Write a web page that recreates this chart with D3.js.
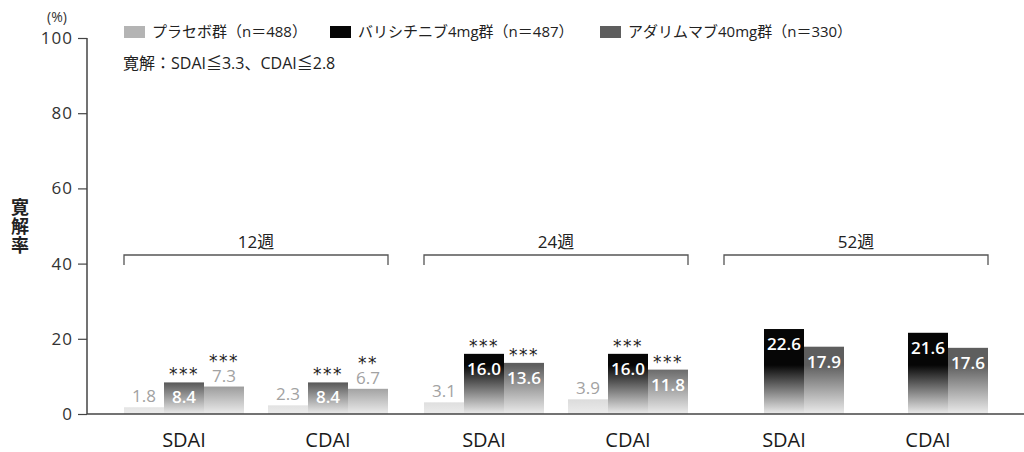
<!DOCTYPE html>
<html><head><meta charset="utf-8">
<script src="https://cdn.jsdelivr.net/npm/d3@7"></script>
<style>
html,body{margin:0;padding:0;background:#fff;}
svg{display:block;font-family:"Open Sans","Noto Sans CJK JP",sans-serif;}
</style></head>
<body>
<svg id="chart" width="1024" height="452"></svg>
<script>
// ---- data ----
const weeks = ["12週", "24週", "52週"];
const indices = ["SDAI", "CDAI"];
const seriesNames = ["プラセボ群（n＝488）", "バリシチニブ4mg群（n＝487）", "アダリムマブ40mg群（n＝330）"];
const seriesKeys = ["placebo", "bari", "ada"];
// order: 12週 SDAI, 12週 CDAI, 24週 SDAI, 24週 CDAI, 52週 SDAI, 52週 CDAI
const placebo = [1.8, 2.3, 3.1, 3.9, null, null];
const baricitinib = [8.4, 8.4, 16.0, 16.0, 22.6, 21.6];
const adalimumab = [7.3, 6.7, 13.6, 11.8, 17.9, 17.6];
const bariStars = ["***", "***", "***", "***", "", ""];
const adaStars = ["***", "**", "***", "***", "", ""];
const yTicks = [0, 20, 40, 60, 80, 100];
const note = "寛解：SDAI≦3.3、CDAI≦2.8";
const yTitle = ["寛", "解", "率"];

const colors = {placebo: "#b4b4b4", bari: "#060606", ada: "#5e5e5e"};

const svg = d3.select("#chart");

const y = d3.scaleLinear().domain([0, 100]).range([414, 38]);
const xWeek = d3.scaleBand().domain(weeks).range([106, 1006]).paddingInner(0.12).paddingOuter(0.06);
const xIdx = d3.scaleBand().domain(indices).range([0, xWeek.bandwidth()]).paddingInner(1/6).paddingOuter(0);
const xSer = d3.scaleBand().domain(seriesKeys).range([0, xIdx.bandwidth()]).padding(0);

// gradients
const defs = svg.append("defs");
seriesKeys.forEach(k => {
  const g = defs.append("linearGradient").attr("id", "g-" + k)
    .attr("gradientUnits", "userSpaceOnUse")
    .attr("x1", 0).attr("x2", 0).attr("y1", y(13)).attr("y2", y(0));
  g.append("stop").attr("offset", 0).attr("stop-color", colors[k]);
  g.append("stop").attr("offset", 1).attr("stop-color", "#ececec");
});

// build rows
const rows = [];
weeks.forEach((w, wi) => indices.forEach((ix, ii) => {
  const i = wi * 2 + ii;
  rows.push({w, ix, i,
    vals: {placebo: placebo[i], bari: baricitinib[i], ada: adalimumab[i]},
    stars: {bari: bariStars[i], ada: adaStars[i]}});
}));

// bars
const bars = [];
rows.forEach(r => seriesKeys.forEach(k => {
  if (r.vals[k] == null) return;
  bars.push({k, v: r.vals[k], stars: r.stars[k] || "", x: xWeek(r.w) + xIdx(r.ix) + xSer(k)});
}));

svg.append("g").selectAll("rect").data(bars).join("rect")
  .attr("x", d => d.x).attr("width", xSer.bandwidth())
  .attr("y", d => y(d.v)).attr("height", d => y(0) - y(d.v))
  .attr("fill", d => `url(#g-${d.k})`);

// value labels
const lab = svg.append("g").attr("font-size", 17).attr("text-anchor", "middle");
bars.forEach(d => {
  const cx = d.x + xSer.bandwidth() / 2;
  const top = y(d.v);
  const inside = d.k === "bari" || (d.k === "ada" && d.v > 10);
  const baseY = inside ? top + 21 : top - 5;
  if (d.stars && !inside) {
    // stars and value stacked in one text element above the bar
    const t = lab.append("text").attr("x", cx).attr("y", baseY);
    t.append("tspan").attr("x", cx).attr("y", baseY - 15)
      .attr("fill", "#222").attr("font-size", 17).attr("letter-spacing", 1.5)
      .attr("font-family", "DejaVu Sans").text(d.stars);
    t.append("tspan").attr("x", cx).attr("y", baseY).attr("fill", "#a2a2a2").text(d.v.toFixed(1));
    return;
  }
  lab.append("text").attr("x", cx).attr("y", baseY)
    .attr("fill", inside ? "#fff" : "#a2a2a2")
    .attr("font-weight", inside ? 600 : 400)
    .text(d.v.toFixed(1));
  if (d.stars) {
    lab.append("text").attr("x", cx).attr("y", top - 2)
      .attr("fill", "#222").attr("font-size", 17).attr("letter-spacing", 1.5)
      .attr("font-family", "DejaVu Sans")
      .text(d.stars);
  }
});

// axes
const axisColor = "#444";
const yAxis = svg.append("g").attr("transform", "translate(87,0)")
  .call(d3.axisLeft(y).tickValues(yTicks).tickSize(9).tickPadding(5));
yAxis.select(".domain").attr("stroke", axisColor).attr("stroke-width", 1.5).attr("d", `M0,${y(100)}V${y(0)}`);
yAxis.selectAll(".tick line").attr("stroke", axisColor).attr("stroke-width", 1.2);
yAxis.selectAll(".tick text").attr("font-size", 17).attr("fill", "#333").attr("letter-spacing", 1)
  .attr("font-family", "'Open Sans',sans-serif");

svg.append("line").attr("x1", 87).attr("x2", 1024).attr("y1", y(0)).attr("y2", y(0))
  .attr("stroke", axisColor).attr("stroke-width", 1.5);

// category labels
rows.forEach(r => {
  svg.append("text").attr("x", xWeek(r.w) + xIdx(r.ix) + xIdx.bandwidth() / 2)
    .attr("y", 447).attr("text-anchor", "middle").attr("font-size", 20).attr("fill", "#1a1a1a")
    .text(r.ix);
});

// week brackets
weeks.forEach(w => {
  const x0 = xWeek(w), x1 = xWeek(w) + xWeek.bandwidth();
  svg.append("path").attr("d", `M${x0},265V255H${x1}V265`)
    .attr("fill", "none").attr("stroke", "#555").attr("stroke-width", 1.3);
  svg.append("text").attr("x", (x0 + x1) / 2).attr("y", 248).attr("text-anchor", "middle")
    .attr("font-size", 17).attr("fill", "#222").text(w);
});

// legend
const legendX = [124, 330, 600];
seriesKeys.forEach((k, i) => {
  svg.append("rect").attr("x", legendX[i]).attr("y", 26).attr("width", 21).attr("height", 12)
    .attr("fill", colors[k]);
  svg.append("text").attr("x", legendX[i] + 28).attr("y", 37).attr("font-size", 15)
    .attr("fill", "#222").text(seriesNames[i]);
});
svg.append("text").attr("x", 123).attr("y", 69).attr("font-size", 16).attr("fill", "#222").text(note);

// y unit and title
svg.append("text").attr("x", 57).attr("y", 22).attr("text-anchor", "middle").attr("font-size", 14)
  .attr("fill", "#333").text("(%)");
const yt = svg.append("text").attr("text-anchor", "middle").attr("font-size", 18)
  .attr("font-weight", 700).attr("fill", "#222").attr("font-family", "'Noto Sans CJK JP',sans-serif");
yTitle.forEach((c, i) => yt.append("tspan").attr("x", 20).attr("y", 214 + i * 19).text(c));
</script>
</body></html>
